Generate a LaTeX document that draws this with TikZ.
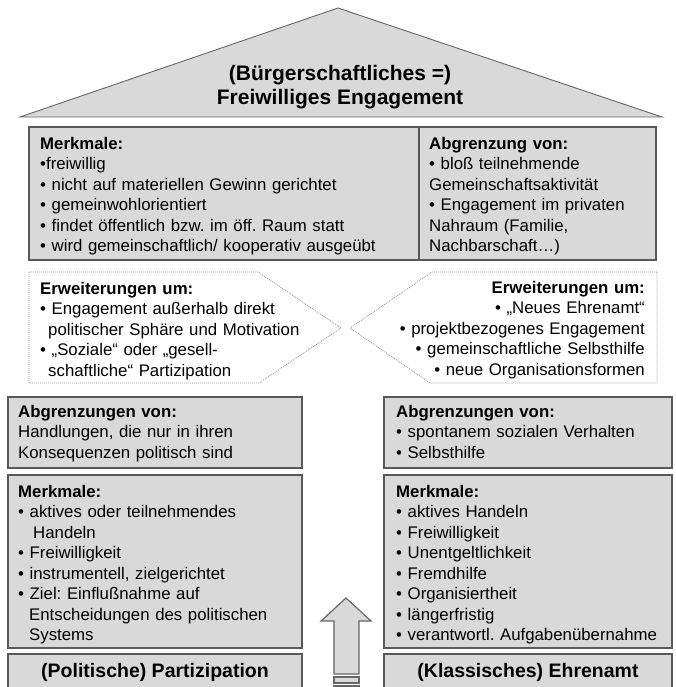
\documentclass[tikz,border=0pt]{standalone}
\usepackage{fontspec}
\setmainfont{Liberation Sans}
\frenchspacing
\tikzset{
	box/.style={draw=black!65,fill=black!15,line width=1.4pt},
	roof/.style={draw=black!60,fill=black!15,line width=0.9pt},
	chev/.style={draw=black!40,fill=white,line width=0.8pt,dash pattern=on 1pt off 1pt},
	upar/.style={draw=black!60,fill=black!15,line width=1.2pt},
	txt/.style={anchor=north west,inner sep=0pt,text width=420pt,align=left,font=\fontsize{16.8}{20.5}\selectfont},
	rtxt/.style={anchor=north east,inner sep=0pt,text width=420pt,align=right,font=\fontsize{16.8}{20.5}\selectfont},
	head/.style={anchor=base,inner sep=0pt,font=\bfseries\fontsize{19.5}{23}\selectfont}
}

\begin{document}
\begin{tikzpicture}[x=1pt,y=-1pt]
	\clip (0,0) rectangle (675,687);

	% roof
	\draw[roof] (20,117) -- (338,8) -- (662,117) -- cycle;
	\node[align=center,inner sep=0pt,font=\bfseries\fontsize{21}{24.5}\selectfont] (roof) at (340,87)
		{(Bürgerschaftliches =)\\Freiwilliges Engagement};

	% top box
	\draw[box] (29,127) rectangle (656,260);
	\draw[box] (419,127) -- (419,260);
	\node[txt] (merkmale) at (40,134.65) {\strut\textbf{Merkmale:}\\
		\textbullet freiwillig\\
		\textbullet\ nicht auf materiellen Gewinn gerichtet\\
		\textbullet\ gemeinwohlorientiert\\
		\textbullet\ findet öffentlich bzw. im öff. Raum statt\\
		\textbullet\ wird gemeinschaftlich/ kooperativ ausgeübt};
	\node[txt] (abgrenzung) at (429,134.65) {\strut\textbf{Abgrenzung von:}\\
		\textbullet\ bloß teilnehmende\\
		Gemeinschaftsaktivität\\
		\textbullet\ Engagement im privaten\\
		Nahraum (Familie,\\
		Nachbarschaft\dots)};

	% extensions
	\draw[chev] (29,272) -- (258,272) -- (341,328) -- (259,383) -- (29,383) -- cycle;
	\draw[chev] (657,272) -- (432,272) -- (350,328) -- (430,383) -- (657,383) -- cycle;
	\node[txt] (erwL) at (40,279.65) {\strut\textbf{Erweiterungen um:}\\
		\textbullet\ Engagement außerhalb direkt\\
		\hspace*{8pt}politischer Sphäre und Motivation\\
		\textbullet\ „Soziale“ oder „gesell-\\
		\hspace*{8pt}schaftliche“ Partizipation};
	\node[rtxt] (erwR) at (645,278.65) {\strut\textbf{Erweiterungen um:}\\
		\textbullet\ „Neues Ehrenamt“\\
		\textbullet\ projektbezogenes Engagement\\
		\textbullet\ gemeinschaftliche Selbsthilfe\\
		\textbullet\ neue Organisationsformen};

	% left column
	\draw[box] (8,397) rectangle (302,468);
	\draw[box] (8,475) rectangle (302,648);
	\draw[box] (8,654) rectangle (302,700);
	\node[txt] (abgrL) at (18,402.65) {\strut\textbf{Abgrenzungen von:}\\
		Handlungen, die nur in ihren\\
		Konsequenzen politisch sind};
	\node[txt] (merkL) at (18,482.65) {\strut\textbf{Merkmale:}\\
		\textbullet\ aktives oder teilnehmendes\\
		\hspace*{15pt}Handeln\\
		\textbullet\ Freiwilligkeit\\
		\textbullet\ instrumentell, zielgerichtet\\
		\textbullet\ Ziel: Einflußnahme auf\\
		\hspace*{11pt}Entscheidungen des politischen\\
		\hspace*{11pt}Systems};
	\node[head] (partizipation) at (155,677) {(Politische) Partizipation};

	% right column
	\draw[box] (384,397) rectangle (672,468);
	\draw[box] (384,475) rectangle (672,648);
	\draw[box] (384,654) rectangle (672,700);
	\node[txt] (abgrR) at (396,402.65) {\strut\textbf{Abgrenzungen von:}\\
		\textbullet\ spontanem sozialen Verhalten\\
		\textbullet\ Selbsthilfe};
	\node[txt] (merkR) at (396,482.65) {\strut\textbf{Merkmale:}\\
		\textbullet\ aktives Handeln\\
		\textbullet\ Freiwilligkeit\\
		\textbullet\ Unentgeltlichkeit\\
		\textbullet\ Fremdhilfe\\
		\textbullet\ Organisiertheit\\
		\textbullet\ längerfristig\\
		\textbullet\ verantwortl. Aufgabenübernahme};
	\node[head] (ehrenamt) at (528,677) {(Klassisches) Ehrenamt};

	% arrow
	\draw[upar] (334,674) -- (334,621) -- (321,621) -- (346,598) -- (371,621) -- (359,621) -- (359,674) -- cycle;
	\draw[upar] (334,677) rectangle (359,683);
	\draw[upar] (334,686) rectangle (359,692);
\end{tikzpicture}
\end{document}
